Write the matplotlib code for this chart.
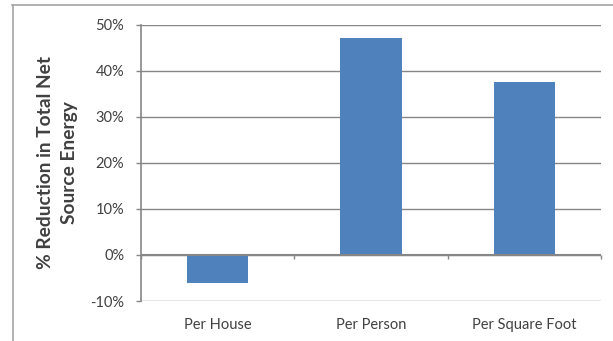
import matplotlib.pyplot as plt
from matplotlib.lines import Line2D
from matplotlib.ticker import FuncFormatter

categories = ['Per House', 'Per Person', 'Per Square Foot']
reduction = [-6.0, 47.0, 37.6]   # percent
yticks = [-10, 0, 10, 20, 30, 40, 50]

plt.rcParams['font.family'] = ['Lato', 'DejaVu Sans']
grey = '#868686'

fig = plt.figure(figsize=(6.13, 3.41), dpi=100)
ax = fig.add_axes([0.230, 0.1173, 0.7504, 0.8107])

x = range(len(categories))
ax.bar(x, reduction, width=0.4, color='#4F81BD', zorder=3)

ax.set_xlim(-0.5, len(categories) - 0.5)
ax.set_ylim(-10, 50)
ax.set_yticks(yticks)
ax.yaxis.set_major_formatter(FuncFormatter(lambda v, p: '{:.0f}%'.format(v)))
ax.grid(axis='y', color=grey, lw=1, zorder=0)

for s in ['top', 'right', 'bottom']:
    ax.spines[s].set_visible(False)
ax.spines['left'].set_color(grey)
ax.spines['left'].set_linewidth(1.2)

ax.tick_params(axis='y', length=3.6, width=1, color=grey, pad=8.5,
               labelsize=10.5, labelcolor='#404040')
ax.set_xticks(list(x))
ax.set_xticklabels(categories)
ax.tick_params(axis='x', length=0, pad=12, labelsize=10.5, labelcolor='#404040')

# category axis drawn at zero
ax.axhline(0, color=grey, lw=1.5, zorder=4)
sec = ax.secondary_xaxis(1 / 6)
sec.set_xticks([-0.5, 0.5, 1.5, 2.5])
sec.set_xticklabels([])
sec.spines['bottom'].set_visible(False)
sec.tick_params(axis='x', length=3, width=1, color=grey, direction='out')

ax.set_ylabel('% Reduction in Total Net\nSource Energy', fontsize=13.8,
              fontweight='bold', color='#404040', labelpad=9, linespacing=1.5)

# chart border
fig.add_artist(Line2D([12 / 613, 1], [1 - 5 / 341] * 2, color='#a6a6a6', lw=1.2))
fig.add_artist(Line2D([12.5 / 613] * 2, [0, 1 - 5 / 341], color='#a6a6a6', lw=1.2))

fig.savefig('out.png', dpi=100)
